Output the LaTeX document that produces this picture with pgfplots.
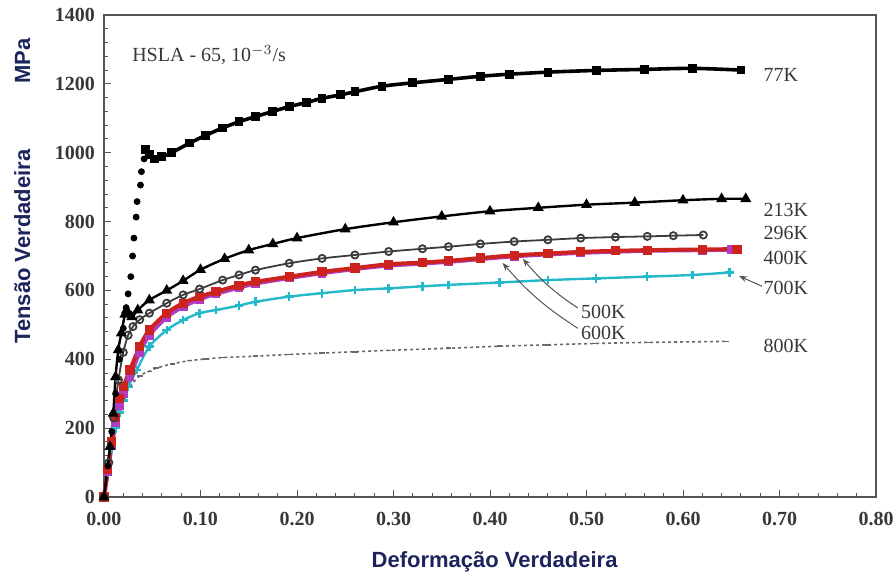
\documentclass[border=0pt]{standalone}
\usepackage{pgfplots}
\pgfplotsset{compat=1.18}
\usepackage{fontspec}
\setmainfont{Liberation Serif}
\newfontfamily\labelfont{Liberation Sans}
\usetikzlibrary{arrows.meta}
\definecolor{labnavy}{RGB}{28,36,92}
\definecolor{axgray}{RGB}{85,85,85}
\definecolor{txtgray}{RGB}{55,55,55}
\definecolor{c296}{RGB}{60,60,60}
\definecolor{c400}{RGB}{205,35,30}
\definecolor{c500}{RGB}{175,60,195}
\definecolor{c700}{RGB}{35,185,200}
\definecolor{c800}{RGB}{105,105,105}

\begin{document}
\begin{tikzpicture}
\begin{axis}[
  width=386pt, height=241pt, scale only axis,
  xmin=0, xmax=0.8, ymin=0, ymax=1400,
  xtick={0,0.1,0.2,0.3,0.4,0.5,0.6,0.7,0.8},
  xticklabels={0.00,0.10,0.20,0.30,0.40,0.50,0.60,0.70,0.80},
  ytick={0,200,400,600,800,1000,1200,1400},
  yticklabels={0,200,400,600,800,1000,1200,1400},
  minor x tick num=4, minor y tick num=4,
  tick align=inside, xtick pos=left, ytick pos=left,
  major tick length=3.5pt, minor tick length=2pt,
  axis line style={axgray, line width=0.6pt},
  tick style={axgray, line width=0.5pt},
  ticklabel style={font=\bfseries, color=txtgray},
  xticklabel style={yshift=-4pt},
  yticklabel style={xshift=-1pt},
  xlabel={Deformação Verdadeira},
  ylabel={Tensão Verdadeira\hspace{3em}MPa},
  xlabel style={font=\labelfont\bfseries\fontsize{11}{13}\selectfont, color=labnavy,
    at={(axis description cs:0.506,0)}, anchor=center, yshift=-32.5pt},
  ylabel style={font=\labelfont\bfseries\fontsize{11}{13}\selectfont, color=labnavy,
    at={(axis description cs:-0.106,0.635)}, anchor=center},
  clip=false,
]

% 800 K
\addplot[c800, dashed, dash pattern=on 1.5pt off 1.5pt, line width=0.8pt, smooth,
  mark=-, mark size=1.4pt, mark options={solid}] coordinates {
 (0,0) (0.004,70) (0.008,140) (0.012,200) (0.016,250) (0.020,285)
 (0.027,320) (0.037,352) (0.047,365) (0.054,374) (0.071,387)
 (0.0887,396) (0.106,401) (0.123,405) (0.157,409) (0.192,414)
 (0.226,418) (0.26,422) (0.295,426) (0.357,432) (0.41,438)
 (0.46,442) (0.51,446) (0.563,449) (0.645,452)};

% 700 K
\addplot[c700, line width=1.2pt, smooth, mark=+, mark size=2.2pt] coordinates {
 (0,0) (0.004,70) (0.008,140) (0.012,200) (0.016,245) (0.020,280)
 (0.025,320) (0.034,369) (0.047,437) (0.065,485) (0.082,514)
 (0.099,534) (0.116,543) (0.14,556) (0.157,567) (0.192,582)
 (0.226,592) (0.26,601) (0.295,606) (0.33,612) (0.357,616) (0.41,623)
 (0.46,630) (0.51,635) (0.563,640) (0.61,645) (0.648,652)};

% 500 K and 600 K
\addplot[c500, line width=2pt, smooth, mark=square*, mark size=1.2pt] coordinates {
 (0,0) (0.004,75) (0.008,150) (0.012,215) (0.016,265) (0.020,300)
 (0.027,350) (0.037,420) (0.047,470) (0.065,522) (0.082,553)
 (0.099,574) (0.116,590) (0.14,608) (0.157,620) (0.192,636)
 (0.226,650) (0.26,662) (0.295,672) (0.357,683) (0.425,699)
 (0.494,709) (0.563,715) (0.62,717) (0.65,718)};

% 400 K
\addplot[c400, line width=2pt, smooth, mark=square*, mark size=1.3pt] coordinates {
 (0,0) (0.004,80) (0.008,160) (0.012,230) (0.016,285) (0.020,320)
 (0.027,369) (0.037,437) (0.047,485) (0.065,534) (0.082,563)
 (0.099,582) (0.116,596) (0.14,615) (0.157,625) (0.192,640)
 (0.226,654) (0.26,665) (0.295,676) (0.33,681) (0.357,686) (0.39,694)
 (0.425,702) (0.46,707) (0.494,712) (0.53,715) (0.563,717) (0.62,719) (0.656,720)};

% 296 K
\addplot[c296, line width=0.9pt, smooth, mark=o, mark size=1.8pt] coordinates {
 (0,0) (0.005,100) (0.010,230) (0.015,340) (0.020,420) (0.025,470)
 (0.030,495) (0.037,515) (0.047,534) (0.065,563) (0.082,587)
 (0.099,604) (0.123,630) (0.14,645) (0.157,659) (0.192,679)
 (0.226,693) (0.26,703) (0.295,713) (0.33,721) (0.357,727) (0.39,735)
 (0.425,742) (0.46,747) (0.494,752) (0.53,755) (0.563,757) (0.59,759) (0.621,761)};

% 213 K
\addplot[black, line width=1.2pt, smooth, mark=triangle*, mark size=2pt] coordinates {
 (0,0) (0.0062,146) (0.0096,243) (0.012,349) (0.0148,427) (0.018,476)
 (0.0216,530) (0.0234,543) (0.0286,523) (0.035,543) (0.047,572)
 (0.065,600) (0.082,628) (0.1,660) (0.125,692) (0.15,717)
 (0.175,735) (0.2,752) (0.25,778) (0.3,798) (0.35,815) (0.4,830)
 (0.45,840) (0.5,849) (0.55,855) (0.6,862) (0.64,866) (0.665,866)};

% 77 K: elastic rise and upper yield point
\addplot[black, only marks, mark=*, mark size=1.5pt] coordinates {
 (0.004,90) (0.008,190) (0.012,300) (0.016,400) (0.020,490)
 (0.023,550) (0.025,590) (0.0278,640) (0.0296,700) (0.031,752)
 (0.0333,813) (0.0343,858) (0.0378,906) (0.0388,945) (0.0416,982)};
% 77 K: plastic flow
\addplot[black, line width=1.8pt, smooth, mark=square*, mark size=1.3pt] coordinates {
 (0.043,1010) (0.0474,995) (0.0526,982) (0.0595,988) (0.070,1000)
 (0.0887,1028) (0.105,1050) (0.123,1072) (0.14,1090) (0.157,1105)
 (0.175,1120) (0.192,1134) (0.21,1146) (0.226,1158) (0.245,1168)
 (0.26,1177) (0.288,1193) (0.32,1203) (0.357,1213) (0.39,1222)
 (0.42,1228) (0.46,1234) (0.51,1239) (0.56,1242) (0.61,1245) (0.66,1240)};

% Annotations
\node[anchor=west, color=txtgray, inner sep=0pt] at (axis cs:0.0289,1284)
  {HSLA - 65, 10$^{-3}$/s};
\begin{scope}[every node/.style={anchor=west, color=txtgray, inner sep=0pt}]
  \node at (axis cs:0.683,1226) {77K};
  \node at (axis cs:0.683,834) {213K};
  \node at (axis cs:0.683,767) {296K};
  \node at (axis cs:0.683,694) {400K};
  \node at (axis cs:0.683,607) {700K};
  \node at (axis cs:0.683,439) {800K};
  \node at (axis cs:0.494,537) {500K};
  \node at (axis cs:0.494,476) {600K};
\end{scope}
\draw[axgray, line width=0.5pt, -{Stealth[length=4pt,width=3pt]}]
  (axis cs:0.682,612) -- (axis cs:0.658,642);
\draw[axgray, line width=0.5pt, -{Stealth[length=4pt,width=3pt]}]
  (axis cs:0.491,549) to[bend left=8] (axis cs:0.434,692);
\draw[axgray, line width=0.5pt, -{Stealth[length=4pt,width=3pt]}]
  (axis cs:0.491,490) to[bend left=8] (axis cs:0.413,680);
\end{axis}
% fixed margins around the axis box
\path (current axis.south west) ++(-52pt,-40.5pt) coordinate (bbsw);
\path (current axis.north east) ++(9pt,7.5pt) coordinate (bbne);
\pgfresetboundingbox
\useasboundingbox (bbsw) rectangle (bbne);
\end{tikzpicture}
\end{document}
